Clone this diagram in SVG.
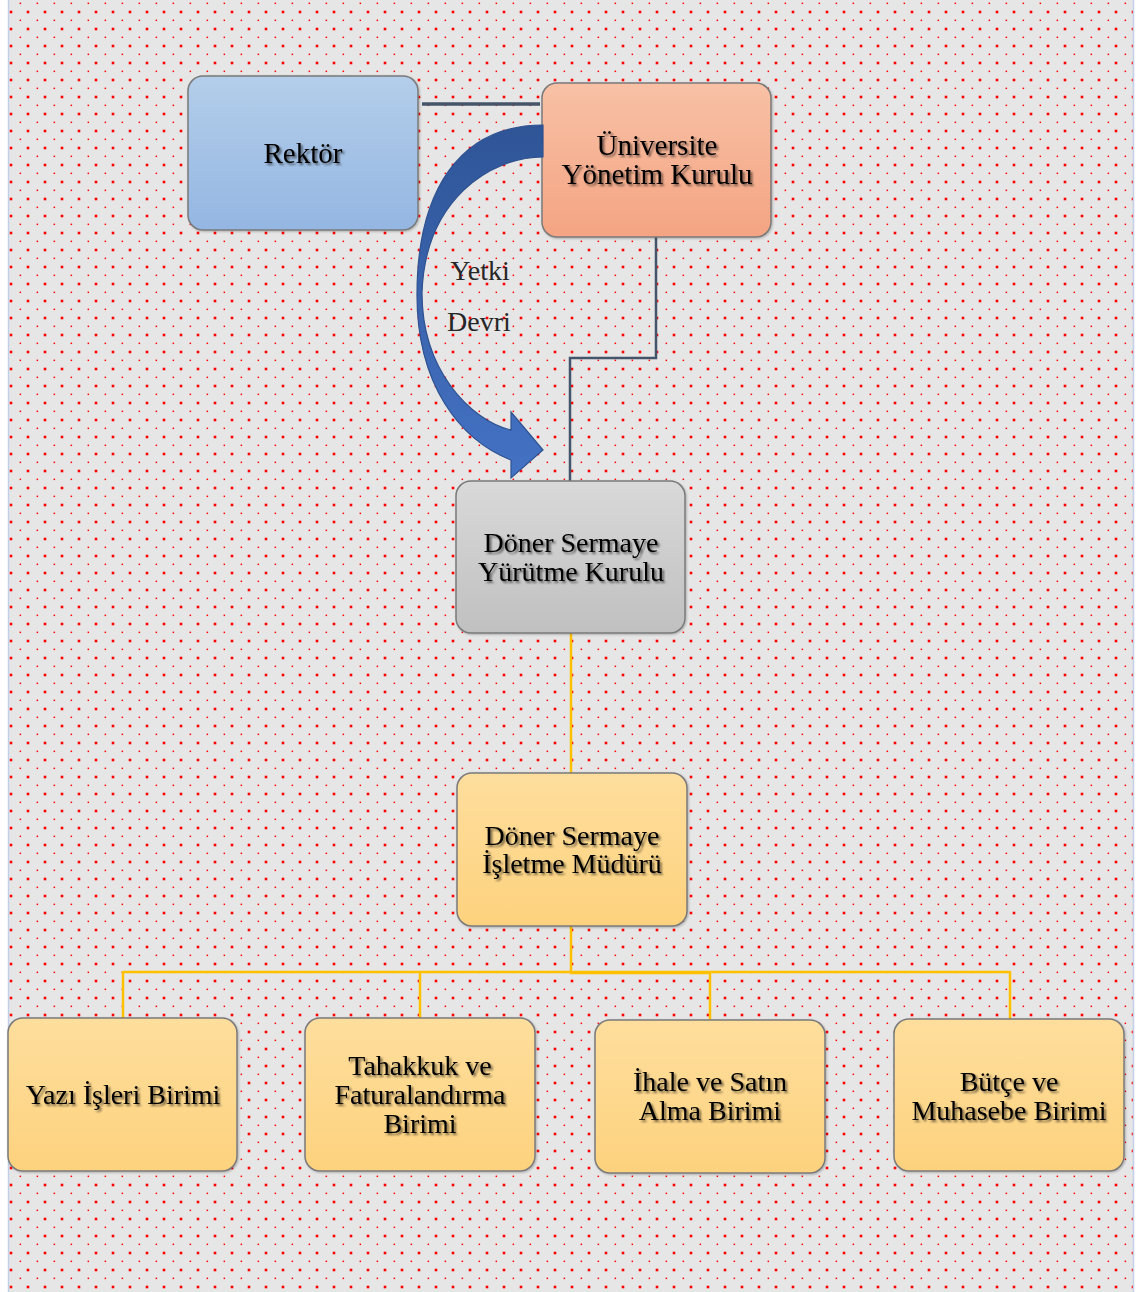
<svg xmlns="http://www.w3.org/2000/svg" width="1140" height="1292" viewBox="0 0 1140 1292">
<style>
.box{stroke:#7a7a7a;stroke-width:1.5}
.t{font-family:"Liberation Serif","Times New Roman",serif;font-size:28px;fill:#000;text-anchor:middle}
.big{font-size:29px}
.lbl{font-family:"Liberation Serif","Times New Roman",serif;font-size:28px;fill:#262626;text-anchor:middle}
.dark{fill:none;stroke:#44546a}
.gold{fill:none;stroke:#ffc000;stroke-width:2.5}
</style>
<defs>
<pattern id="dots" x="0" y="0" width="17" height="17" patternUnits="userSpaceOnUse">
<rect x="9.7" y="10.7" width="2.6" height="2.6" fill="#ff0000"/>
<rect x="2.6" y="2.6" width="1.5" height="1.5" fill="#ff0000"/>
</pattern>
<linearGradient id="gBlue" x1="0" y1="0" x2="0" y2="1"><stop offset="0" stop-color="#b4ceea"/><stop offset="1" stop-color="#94b6e2"/></linearGradient>
<linearGradient id="gSalmon" x1="0" y1="0" x2="0" y2="1"><stop offset="0" stop-color="#f8c1a6"/><stop offset="1" stop-color="#f4a482"/></linearGradient>
<linearGradient id="gGray" x1="0" y1="0" x2="0" y2="1"><stop offset="0" stop-color="#d9d9d9"/><stop offset="1" stop-color="#c0c0c0"/></linearGradient>
<linearGradient id="gGold" x1="0" y1="0" x2="0" y2="1"><stop offset="0" stop-color="#fede9d"/><stop offset="1" stop-color="#fdd27e"/></linearGradient>
<linearGradient id="gArrow" x1="0" y1="0" x2="0" y2="1"><stop offset="0" stop-color="#2f5597"/><stop offset="1" stop-color="#4472c4"/></linearGradient>
<filter id="ts" x="-10%" y="-30%" width="120%" height="160%">
<feGaussianBlur in="SourceAlpha" stdDeviation="1.2"/>
<feOffset dx="1.5" dy="1.5" result="b"/>
<feComponentTransfer><feFuncA type="linear" slope="0.55"/></feComponentTransfer>
<feMerge><feMergeNode/><feMergeNode in="SourceGraphic"/></feMerge>
</filter>
<filter id="bs" x="-5%" y="-5%" width="112%" height="112%">
<feGaussianBlur in="SourceAlpha" stdDeviation="1"/>
<feOffset dx="1" dy="1"/>
<feComponentTransfer><feFuncA type="linear" slope="0.25"/></feComponentTransfer>
<feMerge><feMergeNode/><feMergeNode in="SourceGraphic"/></feMerge>
</filter>
</defs>

<g id="background">
<rect x="0" y="0" width="1140" height="1292" fill="#ffffff"/>
<rect x="9" y="0" width="1124" height="1292" fill="#e6e6e6"/>
<rect x="9" y="0" width="1124" height="1292" fill="url(#dots)"/>
<line x1="8.5" y1="0" x2="8.5" y2="1292" stroke="#c3cfe8" stroke-width="1.5"/>
<line x1="1133.5" y1="0" x2="1133.5" y2="1292" stroke="#c3cfe8" stroke-width="1.5"/>
</g>

<g id="connectors">
<line class="dark" x1="422" y1="104" x2="540" y2="104" stroke-width="3.5"/>
<polyline class="dark" stroke-width="2.5" points="656,237 656,358 570,358 570,481"/>
<line class="gold" x1="571" y1="633" x2="571" y2="773"/>
<polyline class="gold" points="571,926 571,973 710,973"/>
<line class="gold" x1="123" y1="972" x2="1010" y2="972"/>
<line class="gold" x1="123" y1="971" x2="123" y2="1018"/>
<line class="gold" x1="420" y1="971" x2="420" y2="1018"/>
<line class="gold" x1="710" y1="971" x2="710" y2="1020"/>
<line class="gold" x1="1010" y1="971" x2="1010" y2="1019"/>
</g>

<g id="node-rektor">
<rect class="box" x="188" y="76" width="230" height="154" rx="15" fill="url(#gBlue)" filter="url(#bs)"/>
<text class="t big" x="303" y="163" filter="url(#ts)">Rektör</text>
</g>

<g id="node-uyk">
<rect class="box" x="542" y="83" width="229" height="154" rx="15" fill="url(#gSalmon)" filter="url(#bs)"/>
<text class="t big" x="657" y="155" filter="url(#ts)">Üniversite</text>
<text class="t big" x="657" y="184" filter="url(#ts)">Yönetim Kurulu</text>
</g>

<g id="arrow-yetki-devri">
<path d="M543,125 C460,125 417,190 417,295 C417,385 460,440 511,460 L511,478 L543,450 L511,412 L511,430 C470,420 422,370 422,293 C425,200 490,157 543,157 Z" fill="url(#gArrow)" stroke="#2f528f" stroke-width="1.2"/>
<text class="lbl" x="480" y="280">Yetki</text>
<text class="lbl" x="479" y="331">Devri</text>
</g>

<g id="node-dsyk">
<rect class="box" x="456" y="481" width="229" height="152" rx="15" fill="url(#gGray)" filter="url(#bs)"/>
<text class="t" x="571" y="552" filter="url(#ts)">Döner Sermaye</text>
<text class="t" x="571" y="581" filter="url(#ts)">Yürütme Kurulu</text>
</g>

<g id="node-dsim">
<rect class="box" x="457" y="773" width="230" height="153" rx="15" fill="url(#gGold)" filter="url(#bs)"/>
<text class="t" x="572" y="845" filter="url(#ts)">Döner Sermaye</text>
<text class="t" x="572" y="873" filter="url(#ts)">İşletme Müdürü</text>
</g>

<g id="node-yazi">
<rect class="box" x="8" y="1018" width="229" height="153" rx="15" fill="url(#gGold)" filter="url(#bs)"/>
<text class="t" x="123" y="1104" filter="url(#ts)">Yazı İşleri Birimi</text>
</g>

<g id="node-tahakkuk">
<rect class="box" x="305" y="1018" width="230" height="153" rx="15" fill="url(#gGold)" filter="url(#bs)"/>
<text class="t" x="420" y="1075" filter="url(#ts)">Tahakkuk ve</text>
<text class="t" x="420" y="1104" filter="url(#ts)">Faturalandırma</text>
<text class="t" x="420" y="1133" filter="url(#ts)">Birimi</text>
</g>

<g id="node-ihale">
<rect class="box" x="595" y="1020" width="230" height="153" rx="15" fill="url(#gGold)" filter="url(#bs)"/>
<text class="t" x="710" y="1091" filter="url(#ts)">İhale ve Satın</text>
<text class="t" x="710" y="1120" filter="url(#ts)">Alma Birimi</text>
</g>

<g id="node-butce">
<rect class="box" x="894" y="1019" width="230" height="152" rx="15" fill="url(#gGold)" filter="url(#bs)"/>
<text class="t" x="1009" y="1091" filter="url(#ts)">Bütçe ve</text>
<text class="t" x="1009" y="1120" filter="url(#ts)">Muhasebe Birimi</text>
</g>
</svg>
